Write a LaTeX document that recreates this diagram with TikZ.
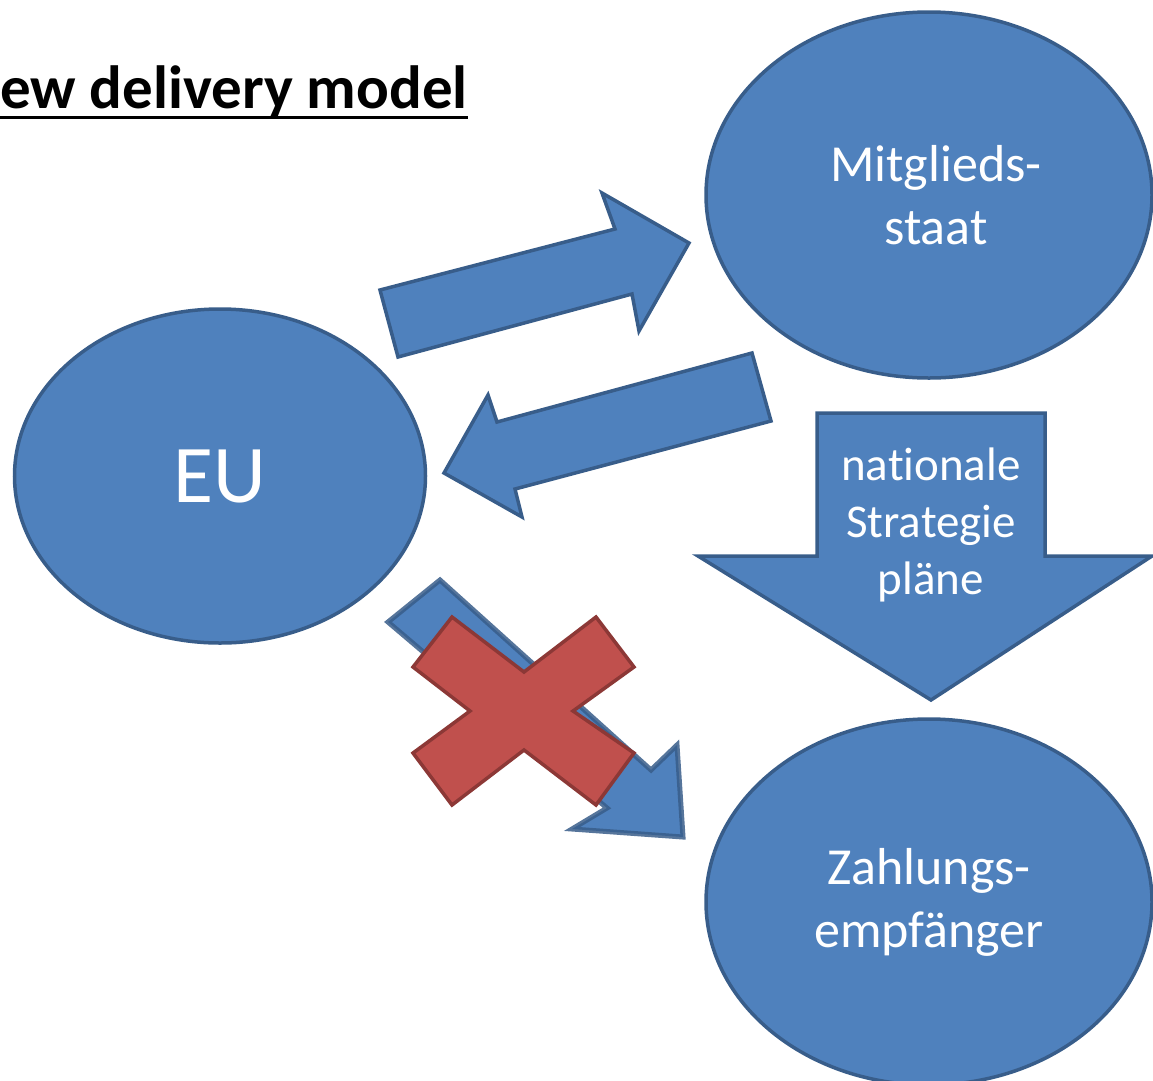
\documentclass[tikz,border=0pt]{standalone}
\usepackage{fontspec}
\setmainfont{Carlito}[Ligatures=NoCommon]
\usepackage{xcolor}
\usetikzlibrary{shapes.geometric,positioning,calc}

\definecolor{ofcblue}{HTML}{4F81BD}
\definecolor{ofcbluedark}{HTML}{385D8A}
\definecolor{ofcred}{HTML}{C0504D}
\definecolor{ofcreddark}{HTML}{8C3836}

\tikzset{
  actor/.style={ellipse, draw=ofcbluedark, fill=ofcblue, line width=3.5pt, inner sep=0pt,
    minimum width=446pt, minimum height=366pt, text=white, align=center,
    font=\fontsize{52}{63}\selectfont},
  blockarrow/.style={draw=ofcbluedark, fill=ofcblue, line width=3.5pt, line join=miter},
  crossmark/.style={draw=ofcreddark, fill=ofcred, line width=3.5pt, line join=miter}
}

\begin{document}
\begin{tikzpicture}[x=1pt,y=-1pt]
    \useasboundingbox (0,0) rectangle (1153,1080);
    \clip (0,0) rectangle (1153,1080);

    % Title
    \node[anchor=base west, inner sep=0pt, font=\fontsize{61}{70}\selectfont\bfseries] (title) at (0,108) {ew delivery model};
    \draw[line width=3.5pt] ([yshift=-9.5pt]title.base west) -- ([yshift=-9.5pt]title.base east);

    % Actors
    \node[actor, minimum width=411pt, minimum height=334pt, font=\fontsize{82}{90}\selectfont] (eu) at (220,476) {EU};
    \node[actor] (ms) at (929,195) {\hspace*{14pt}Mitglieds-\\\hspace*{14pt}staat};
    \node[actor] (ze) at (929,902) {Zahlungs-\\empfänger};

    % Block arrows between EU and member state
    \draw[blockarrow] (380,290) -- (615,229) -- (602,193) -- (689,243) -- (639,331) -- (632,294) -- (398,357) -- cycle;
    \draw[blockarrow] (752,353) -- (771,421) -- (515,489) -- (522,517) -- (444,473) -- (488,395) -- (497,422) -- cycle;

    % National strategy plans
    \draw[blockarrow] (817,413) -- (1045,413) -- (1045,556) -- (1152,556) -- (931,700) -- (698,556) -- (817,556) -- cycle;
    \node[inner sep=0pt, text=white, align=center, font=\fontsize{47}{57}\selectfont] (nsp) at (931,525) {nationale\\Strategie\\pläne};

    % Direct path, crossed out
    \draw[blockarrow, line width=5pt, draw opacity=0.85] (440,580) -- (651,770) -- (677,745) -- (683,837) -- (572,829) -- (607,808) -- (388,622) -- cycle;
    \draw[crossmark] (452,617) -- (524,672) -- (596,617) -- (634,667) -- (573,711) -- (634,753) -- (596,805) -- (524,750) -- (452,805) -- (413,753) -- (470,711) -- (413,667) -- cycle;
\end{tikzpicture}
\end{document}
